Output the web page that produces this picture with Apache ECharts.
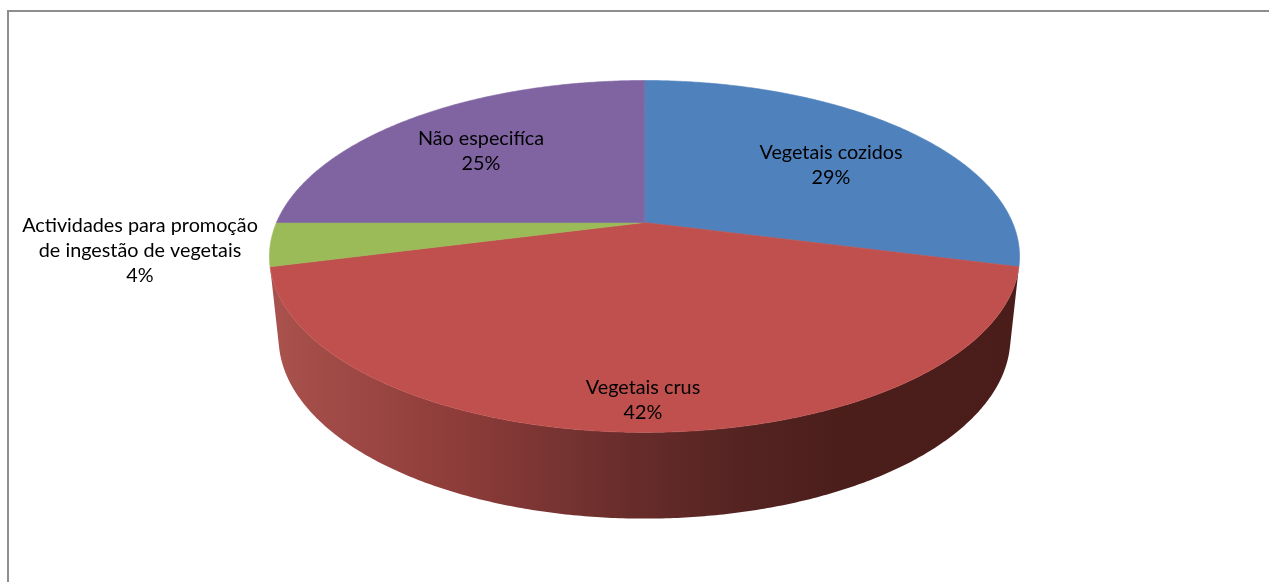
<!DOCTYPE html>
<html>
<head>
<meta charset="utf-8">
<style>html,body{margin:0;padding:0;background:#fff}#c{width:1269px;height:582px}</style>
<script src="https://cdn.jsdelivr.net/npm/echarts@6/dist/echarts.min.js"></script>
</head>
<body>
<div id="c"></div>
<script>
const categories = ['Vegetais cozidos', 'Vegetais crus', 'Actividades para promoção\nde ingestão de vegetais', 'Não especifíca'];
const values = [29, 42, 4, 25];
const sliceColors = ['#4f81bd', '#c0504d', '#9bbb59', '#8064a2'];
const labelCenters = [[831, 165], [643, 400], [140, 251], [481, 151]];

const topFace = { cx: 644.5, y0: 222.5, a: 368, b: 169.4, k: -0.193 };
const baseFace = { cx: 644.5, y0: 303, a: 359, b: 174, k: -0.193 };
const total = values.reduce((s, v) => s + v, 0);
const starts = values.map((_, i) => values.slice(0, i).reduce((s, v) => s + v, 0));
const rows = values.map((v, i) => [v, starts[i], i]);

function project(face, deg) {
  const r = deg * Math.PI / 180;
  const x = Math.sin(r), y = -Math.cos(r), d = 1 + face.k * y;
  return [face.cx + face.a * x / d, face.y0 + face.b * y / d];
}
function arc(face, from, to) {
  const pts = [], n = Math.max(2, Math.ceil(Math.abs(to - from) * 2));
  for (let i = 0; i <= n; i++) pts.push(project(face, from + (to - from) * i / n));
  return pts;
}
function angles(api) {
  const from = api.value(1) / total * 360;
  return [from, from + api.value(0) / total * 360];
}
const wallGradient = new echarts.graphic.LinearGradient(0, 0, 1, 0, [
  { offset: 0, color: '#a9524e' }, { offset: 0.03, color: '#a64f4b' },
  { offset: 0.24, color: '#8f3d3a' }, { offset: 0.36, color: '#7b3533' },
  { offset: 0.49, color: '#662c2a' }, { offset: 0.64, color: '#532321' },
  { offset: 0.77, color: '#4b1e1b' }, { offset: 1, color: '#4a1d1a' }
]);

const chart = echarts.init(document.getElementById('c'), null, { renderer: 'canvas' });
chart.setOption({
  animation: false,
  backgroundColor: '#ffffff',
  graphic: [{
    type: 'polyline', silent: true, z: 0,
    shape: { points: [[8, 582], [8, 11], [1269, 11]] },
    style: { stroke: '#8e8e8e', lineWidth: 2, fill: null }
  }],
  series: [
    {
      type: 'custom', coordinateSystem: 'none', z: 2, silent: true, data: rows,
      renderItem(params, api) {
        const [from, to] = angles(api);
        if (!(from <= 180 && to >= 180)) return null;
        return {
          type: 'polygon',
          shape: { points: arc(topFace, from, to).concat(arc(baseFace, to, from)) },
          style: { fill: wallGradient }
        };
      }
    },
    {
      type: 'custom', coordinateSystem: 'none', z: 3, silent: true, data: rows,
      renderItem(params, api) {
        const [from, to] = angles(api);
        const color = sliceColors[api.value(2)];
        return {
          type: 'polygon',
          shape: { points: [[topFace.cx, topFace.y0]].concat(arc(topFace, from, to)) },
          style: { fill: color, stroke: color, lineWidth: 0.6 }
        };
      }
    },
    {
      type: 'custom', coordinateSystem: 'none', z: 4, silent: true, data: rows,
      renderItem(params, api) {
        const i = api.value(2);
        return {
          type: 'text',
          style: {
            x: labelCenters[i][0], y: labelCenters[i][1],
            text: categories[i] + '\n' + api.value(0) + '%',
            align: 'center', verticalAlign: 'middle',
            font: '19.8px Lato', lineHeight: 25, fill: '#000000'
          }
        };
      }
    }
  ]
});
</script>
</body>
</html>
